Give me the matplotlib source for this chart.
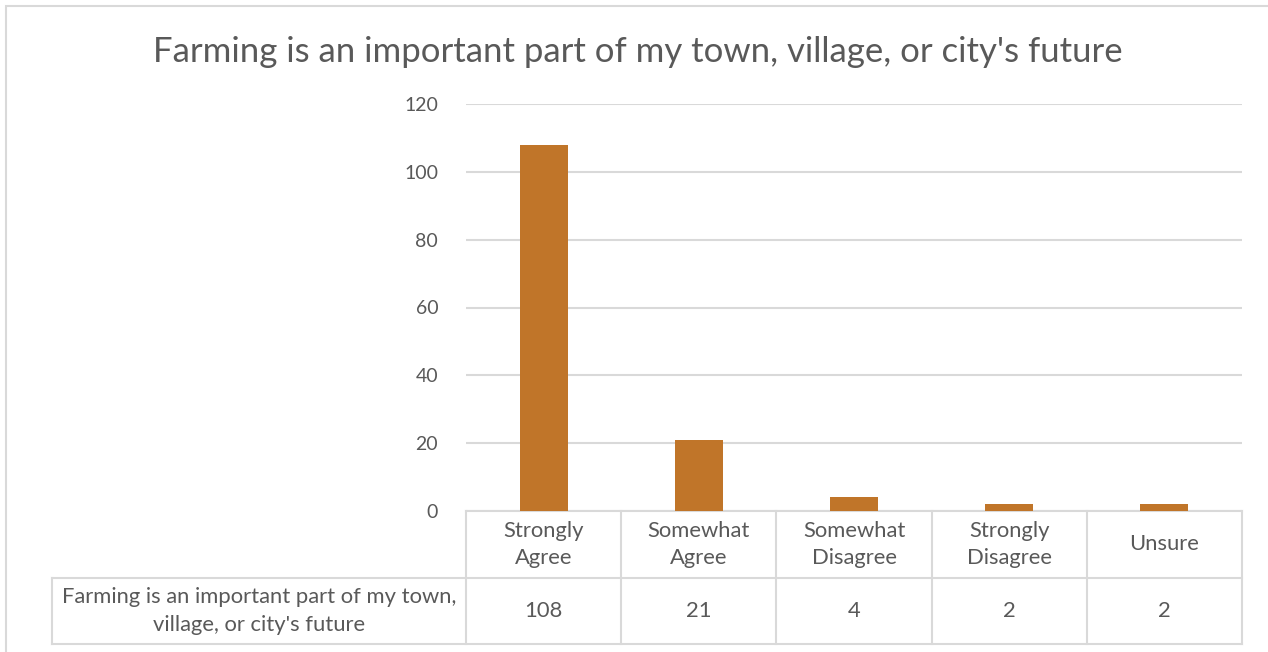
import matplotlib
matplotlib.use("Agg")
import matplotlib.pyplot as plt
from matplotlib.transforms import blended_transform_factory
from matplotlib.patches import Rectangle

categories = ["Strongly\nAgree", "Somewhat\nAgree", "Somewhat\nDisagree", "Strongly\nDisagree", "Unsure"]
values = [108, 21, 4, 2, 2]
yticks = [0, 20, 40, 60, 80, 100, 120]
title = "Farming is an important part of my town, village, or city's future"
series_name = "Farming is an important part of my town,\nvillage, or city's future"

plt.rcParams['font.family'] = ['Lato', 'DejaVu Sans']
W, H = 1268, 652
fig = plt.figure(figsize=(W / 100, H / 100), dpi=100)
txt = "#595959"
grid = "#D9D9D9"

# outer border
fig.patches.append(Rectangle((6 / W, -0.1), 1.2, (H - 6) / H + 0.1, transform=fig.transFigure,
                             fill=False, edgecolor=grid, linewidth=1.5))

x0, x1, ytop, ybot = 466, 1242, 104, 511
ax = fig.add_axes([x0 / W, (H - ybot) / H, (x1 - x0) / W, (ybot - ytop) / H])
n = len(categories)
xs = list(range(n))
ax.bar(xs, values, width=0.31, color="#C07529", zorder=3)
ax.set_xlim(-0.5, n - 0.5)
ax.set_ylim(0, 120)
ax.set_yticks(yticks)
ax.set_yticklabels([str(t) for t in yticks], color=txt, fontsize=14)
ax.tick_params(axis='y', length=0, pad=20)
ax.set_xticks([])
ax.grid(axis='y', color=grid, linewidth=1.5, zorder=0)
for s in ax.spines.values():
    s.set_visible(False)

fig.text(638 / W, 1 - 52 / H, title, ha='center', va='center', fontsize=25, color=txt)

# data table
axh = ybot - ytop
def ay(py):
    return -(py - ybot) / axh
colw = (x1 - x0) / n
trans = blended_transform_factory(ax.transData, ax.transAxes)
y_mid = ay(578)
y_bot = ay(644)
y_top = 0.0
left = -0.5 + (52 - x0) / colw
lk = dict(color=grid, linewidth=1.5, clip_on=False, transform=trans)
ax.plot([-0.5, n - 0.5], [y_top, y_top], **lk)
ax.plot([left, n - 0.5], [y_mid, y_mid], **lk)
ax.plot([left, n - 0.5], [y_bot, y_bot], **lk)
ax.plot([left, left], [y_mid, y_bot], **lk)
for i in range(n + 1):
    ax.plot([i - 0.5, i - 0.5], [y_top, y_bot], **lk)
fs = 15.8
for i, (c, v) in enumerate(zip(categories, values)):
    ax.text(i, (y_top + y_mid) / 2, c, ha='center', va='center', fontsize=fs,
            color=txt, transform=trans, linespacing=1.45)
    ax.text(i, (y_mid + y_bot) / 2, str(v), ha='center', va='center', fontsize=fs,
            color=txt, transform=trans)
ax.text((left - 0.5) / 2, (y_mid + y_bot) / 2, series_name, ha='center', va='center',
        fontsize=fs, color=txt, transform=trans, linespacing=1.45)

fig.savefig("out.png", dpi=100)
